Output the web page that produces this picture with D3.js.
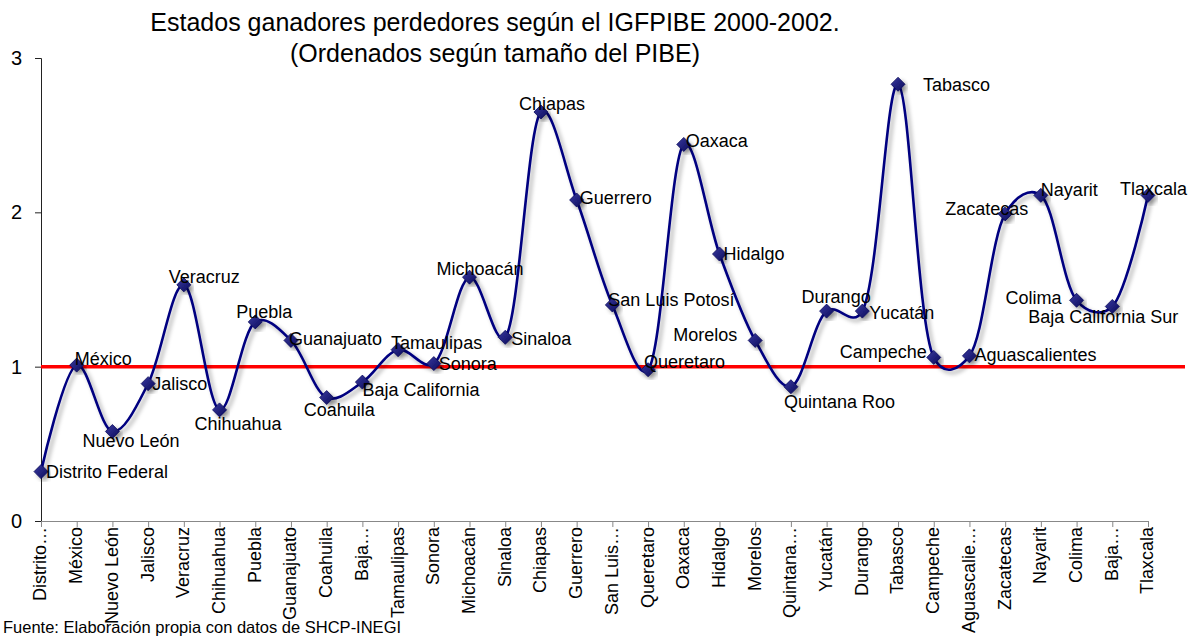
<!DOCTYPE html>
<html>
<head>
  <meta charset="utf-8">
  <title>Estados ganadores perdedores</title>
  <script src="https://d3js.org/d3.v7.min.js"></script>
  <style>
    body { margin: 0; background: #fff; }
    svg { font-family: "Liberation Sans", Arial, sans-serif; }
  </style>
</head>
<body>
  <script>
    // categorias del eje (ordenadas segun tamaño del PIBE)
    var estados = ["Distrito…", "México", "Nuevo León", "Jalisco", "Veracruz", "Chihuahua",
      "Puebla", "Guanajuato", "Coahuila", "Baja…", "Tamaulipas", "Sonora", "Michoacán",
      "Sinaloa", "Chiapas", "Guerrero", "San Luis…", "Queretaro", "Oaxaca", "Hidalgo",
      "Morelos", "Quintana…", "Yucatán", "Durango", "Tabasco", "Campeche", "Aguascalie…",
      "Zacatecas", "Nayarit", "Colima", "Baja…", "Tlaxcala"];

    // IGFPIBE 2000-2002
    var igfpibe = [0.32, 1.01, 0.58, 0.89, 1.53, 0.72, 1.29, 1.17, 0.80, 0.90, 1.11, 1.02,
      1.58, 1.19, 2.65, 2.08, 1.40, 0.98, 2.44, 1.73, 1.17, 0.87, 1.36, 1.36, 2.83, 1.06,
      1.07, 1.99, 2.11, 1.43, 1.39, 2.11];

    // etiquetas de datos tal como aparecen
    var etiquetas = ["Distrito Federal", "México", "Nuevo León", "Jalisco", "Veracruz",
      "Chihuahua", "Puebla", "Guanajuato", "Coahuila", "Baja California", "Tamaulipas",
      "Sonora", "Michoacán", "Sinaloa", "Chiapas", "Guerrero", "San Luis Potosí", "Queretaro",
      "Oaxaca", "Hidalgo", "Morelos", "Quintana Roo", "Durango", "Yucatán", "Tabasco",
      "Campeche", "Aguascalientes", "Zacatecas", "Nayarit", "Colima", "Baja California Sur",
      "Tlaxcala"];

    var yTicks = [0, 1, 2, 3];
    var referencia = 1;

    // desplazamiento de cada etiqueta respecto a su punto [dx, dy, ancla]
    var offsets = [[5, 6, "start"], [-2, 0, "start"], [-30, 16, "start"], [4, 6, "start"],
      [-15, -2, "start"], [-25, 20, "start"], [-19, -4, "start"], [-2, 5, "start"],
      [-23, 18, "start"], [0, 14, "start"], [-7, -1, "start"], [5, 6, "start"],
      [-33, -2, "start"], [6, 8, "start"], [-22, -2, "start"], [3, 4, "start"],
      [-4, 1, "start"], [-4, -2, "start"], [2, 3, "start"], [4, 6, "start"],
      [-18, 1, "end"], [-7, 21, "start"], [-25, -8, "start"], [7, 8, "start"],
      [25, 7, "start"], [-7, 1, "end"], [5, 5, "start"], [-60, 1, "start"],
      [0, 1, "start"], [-15, 4, "end"], [-84, 17, "start"], [-28, 0, "start"]];

    var width = 1196, height = 640;
    var plotLeft = 41, plotRight = 1148, plotTop = 58, plotBottom = 521;

    var svg = d3.select("body").append("svg")
      .attr("width", width)
      .attr("height", height);

    var defs = svg.append("defs");
    defs.append("filter")
      .attr("id", "sombra")
      .attr("x", "-20%").attr("y", "-20%")
      .attr("width", "140%").attr("height", "140%")
      .append("feDropShadow")
      .attr("dx", 3).attr("dy", 3)
      .attr("stdDeviation", 2.2)
      .attr("flood-color", "#000")
      .attr("flood-opacity", 0.35);

    var grad = defs.append("linearGradient")
      .attr("id", "rombo")
      .attr("x1", "0").attr("y1", "0").attr("x2", "1").attr("y2", "1");
    grad.append("stop").attr("offset", "0%").attr("stop-color", "#3a3aa0");
    grad.append("stop").attr("offset", "100%").attr("stop-color", "#0a0a5a");

    var x = d3.scalePoint()
      .domain(d3.range(estados.length))
      .range([plotLeft, plotRight]);

    var y = d3.scaleLinear()
      .domain([0, 3])
      .range([plotBottom, plotTop]);

    // titulo
    var titulo = svg.append("text")
      .attr("text-anchor", "middle")
      .style("font-size", "25px")
      .attr("fill", "#000");
    titulo.append("tspan").attr("x", 495).attr("y", 31)
      .text("Estados ganadores perdedores según el IGFPIBE 2000-2002.");
    titulo.append("tspan").attr("x", 495).attr("y", 62)
      .text("(Ordenados según tamaño del PIBE)");

    // eje y
    var yAxis = svg.append("g")
      .attr("transform", "translate(" + plotLeft + ",0)")
      .call(d3.axisLeft(y).tickValues(yTicks).tickFormat(d3.format("d")).tickSize(6).tickPadding(13));
    yAxis.select(".domain").attr("stroke", "#222");
    yAxis.selectAll(".tick line").attr("stroke", "#222");
    yAxis.selectAll(".tick text").style("font-size", "20px").attr("fill", "#000");

    // eje x
    var xAxis = svg.append("g")
      .attr("transform", "translate(0," + plotBottom + ")")
      .call(d3.axisBottom(x).tickFormat(function(i) { return estados[i]; }).tickSize(6).tickSizeOuter(0));
    xAxis.select(".domain").attr("stroke", "#888");
    xAxis.selectAll(".tick line").attr("stroke", "#888");
    xAxis.selectAll(".tick text")
      .style("font-size", "18px")
      .attr("fill", "#000")
      .attr("text-anchor", "end")
      .attr("transform", "rotate(-90)")
      .attr("x", -6)
      .attr("y", -1)
      .attr("dy", "0.33em");

    // linea de referencia
    svg.append("line")
      .attr("x1", plotLeft).attr("x2", 1185)
      .attr("y1", y(referencia)).attr("y2", y(referencia))
      .attr("stroke", "#ff0000")
      .attr("stroke-width", 3.5);

    // serie suavizada
    var line = d3.line()
      .x(function(d, i) { return x(i); })
      .y(function(d) { return y(d); })
      .curve(d3.curveCatmullRom.alpha(0.25));

    svg.append("path")
      .datum(igfpibe)
      .attr("d", line)
      .attr("fill", "none")
      .attr("stroke", "#000080")
      .attr("stroke-width", 2.6)
      .attr("filter", "url(#sombra)");

    svg.selectAll(".rombo")
      .data(igfpibe)
      .enter()
      .append("path")
      .attr("class", "rombo")
      .attr("d", "M0,-7L7,0L0,7L-7,0Z")
      .attr("transform", function(d, i) { return "translate(" + x(i) + "," + y(d) + ")"; })
      .attr("fill", "url(#rombo)")
      .attr("stroke", "#0a0a5a")
      .attr("stroke-width", 0.8)
      .attr("filter", "url(#sombra)");

    // etiquetas de datos
    svg.selectAll(".etiqueta")
      .data(igfpibe)
      .enter()
      .append("text")
      .attr("class", "etiqueta")
      .attr("x", function(d, i) { return x(i) + offsets[i][0]; })
      .attr("y", function(d, i) { return y(d) + offsets[i][1]; })
      .attr("text-anchor", function(d, i) { return offsets[i][2]; })
      .style("font-size", "18px")
      .attr("fill", "#000")
      .text(function(d, i) { return etiquetas[i]; });

    // fuente
    svg.append("text")
      .attr("x", 3)
      .attr("y", 633)
      .style("font-size", "16.5px")
      .attr("fill", "#000")
      .text("Fuente: Elaboración propia con datos de SHCP-INEGI");
  </script>
</body>
</html>
